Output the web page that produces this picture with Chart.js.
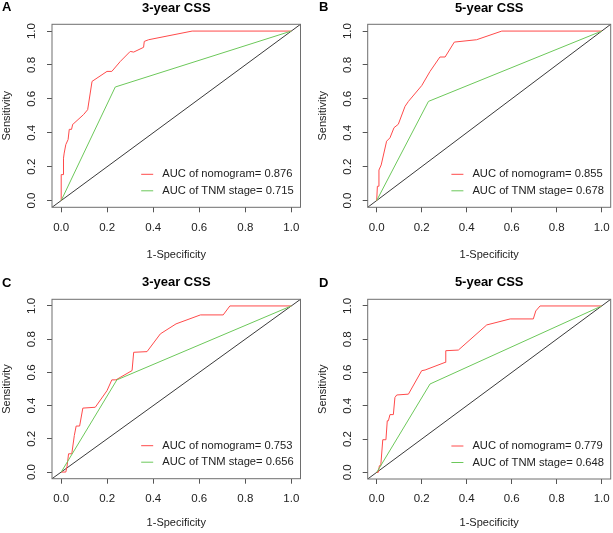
<!DOCTYPE html>
<html>
<head>
<meta charset="utf-8">
<script src="https://cdn.jsdelivr.net/npm/chart.js@4"></script>
<style>
  body { margin: 0; background: #fff; }
  #wrap { position: relative; width: 613px; height: 533px; overflow: hidden; }
  .panel { position: absolute; }
  .tag { position: absolute; font: bold 13px "Liberation Sans", Arial, sans-serif; color: #000; }
</style>
</head>
<body>
<div id="wrap"></div>
<script>
// tick labels shared by both axes
const tickVals = [0, 0.2, 0.4, 0.6, 0.8, 1.0];
const diagX = [-0.04, 1.04];

const panelLetters = ["A", "B", "C", "D"];
const panelTitles = ["3-year CSS", "5-year CSS", "3-year CSS", "5-year CSS"];
const nomoAuc = ["0.876", "0.855", "0.753", "0.779"];
const tnmAuc = ["0.715", "0.678", "0.656", "0.648"];

// A: training 3-year
const aNomoFpr = [0, 0, 0.01, 0.01, 0.013, 0.02, 0.03, 0.035, 0.045, 0.05, 0.055, 0.097, 0.115, 0.134, 0.199, 0.22, 0.257, 0.30, 0.315, 0.358, 0.361, 0.38, 0.569, 1];
const aNomoTpr = [0, 0.153, 0.153, 0.25, 0.28, 0.33, 0.36, 0.42, 0.42, 0.45, 0.455, 0.507, 0.536, 0.703, 0.762, 0.762, 0.821, 0.88, 0.876, 0.904, 0.939, 0.949, 1, 1];
const aTnmFpr = [0, 0.235, 1];
const aTnmTpr = [0, 0.67, 1];

// B: training 5-year
const bNomoFpr = [0, 0.003, 0.007, 0.01, 0.02, 0.044, 0.059, 0.077, 0.096, 0.126, 0.141, 0.2, 0.237, 0.281, 0.304, 0.345, 0.444, 0.556, 1];
const bNomoTpr = [0, 0.084, 0.084, 0.18, 0.21, 0.35, 0.37, 0.43, 0.45, 0.556, 0.585, 0.678, 0.762, 0.847, 0.847, 0.935, 0.949, 1, 1];
const bTnmFpr = [0, 0.23, 1];
const bTnmTpr = [0, 0.585, 1];

// C: validation 3-year
const cNomoFpr = [0, 0.02, 0.025, 0.032, 0.046, 0.057, 0.065, 0.08, 0.094, 0.148, 0.199, 0.22, 0.238, 0.308, 0.315, 0.373, 0.431, 0.499, 0.605, 0.704, 0.733, 1];
const cNomoTpr = [0, 0, 0.03, 0.11, 0.11, 0.22, 0.277, 0.277, 0.385, 0.39, 0.49, 0.555, 0.555, 0.611, 0.721, 0.725, 0.832, 0.892, 0.946, 0.946, 1, 1];
const cTnmFpr = [0, 0.242, 1];
const cTnmTpr = [0, 0.555, 1];

// D: validation 5-year
const dNomoFpr = [0, 0.007, 0.012, 0.018, 0.027, 0.041, 0.047, 0.052, 0.059, 0.074, 0.081, 0.089, 0.141, 0.2, 0.215, 0.304, 0.307, 0.363, 0.489, 0.593, 0.696, 0.707, 0.726, 1];
const dNomoTpr = [0, 0, 0.04, 0.04, 0.196, 0.196, 0.31, 0.31, 0.347, 0.347, 0.45, 0.465, 0.47, 0.611, 0.615, 0.661, 0.731, 0.735, 0.886, 0.922, 0.922, 0.97, 1, 1];
const dTnmFpr = [0, 0.237, 1];
const dTnmTpr = [0, 0.531, 1];

const nomoFpr = [aNomoFpr, bNomoFpr, cNomoFpr, dNomoFpr];
const nomoTpr = [aNomoTpr, bNomoTpr, cNomoTpr, dNomoTpr];
const tnmFpr = [aTnmFpr, bTnmFpr, cTnmFpr, dTnmFpr];
const tnmTpr = [aTnmTpr, bTnmTpr, cTnmTpr, dTnmTpr];

const FONT = '"Liberation Sans", Arial, sans-serif';
const RED = "#ff4a4a";
const GREEN = "#6cc85a";

// where each panel sits and how big its plot box is
const layouts = [
  { x: 0,   y: 0,   w: 306, h: 266, padL: 0,  padR: 5.5, yW: 52,   xH: 58.7, tTop: 1.5, tBot: 9.8,  xtPad: 4.5, tkPad: 9, tag: [2, -1] },
  { x: 306, y: 0,   w: 307, h: 266, padL: 10, padR: 2.3, yW: 51.7, xH: 58.7, tTop: 1.5, tBot: 9.8,  xtPad: 4.5, tkPad: 9, tag: [13, -1] },
  { x: 0,   y: 266, w: 306, h: 267, padL: 0,  padR: 5.5, yW: 52,   xH: 54.3, tTop: 9.7, tBot: 10.6, xtPad: 3,   tkPad: 8, tag: [2, 9] },
  { x: 306, y: 266, w: 307, h: 267, padL: 10, padR: 2.3, yW: 51.7, xH: 54,   tTop: 9.7, tBot: 10.6, xtPad: 3,   tkPad: 8, tag: [13, 9] }
];

const toPts = (xs, ys) => xs.map((v, i) => ({ x: v, y: ys[i] }));

const boxAndLegend = {
  id: "boxAndLegend",
  afterDatasetsDraw(chart) {
    const { ctx, chartArea: a } = chart;
    ctx.save();
    ctx.strokeStyle = "#6e6e6e";
    ctx.lineWidth = 1;
    ctx.strokeRect(a.left, a.top, a.right - a.left, a.bottom - a.top);

    // legend, bottom right, no frame
    const items = chart.data.datasets.filter(d => d.inLegend).sort((p, q) => p.legendRow - q.legendRow);
    ctx.font = "11.2px " + FONT;
    ctx.textBaseline = "middle";
    const tx = a.right - 138.3;
    items.forEach((d, i) => {
      const y = a.bottom - 33 + i * 16.5;
      ctx.strokeStyle = d.borderColor;
      ctx.beginPath();
      ctx.moveTo(tx - 21, y);
      ctx.lineTo(tx - 9, y);
      ctx.stroke();
      ctx.fillStyle = "#222";
      ctx.fillText(d.label, tx, y);
    });
    ctx.restore();
  }
};

const wrap = document.getElementById("wrap");

layouts.forEach((L, p) => {
  const div = document.createElement("div");
  div.className = "panel";
  div.style.left = L.x + "px";
  div.style.top = L.y + "px";
  const cv = document.createElement("canvas");
  cv.width = L.w;
  cv.height = L.h;
  cv.style.width = L.w + "px";
  cv.style.height = L.h + "px";
  div.appendChild(cv);
  const tag = document.createElement("div");
  tag.className = "tag";
  tag.textContent = panelLetters[p];
  tag.style.left = L.tag[0] + "px";
  tag.style.top = L.tag[1] + "px";
  div.appendChild(tag);
  wrap.appendChild(div);

  const setTicks = s => { s.ticks = tickVals.map(v => ({ value: v })); };
  const noPad = s => { s.paddingTop = 0; s.paddingBottom = 0; s.paddingLeft = 0; s.paddingRight = 0; };

  new Chart(cv, {
    type: "scatter",
    data: {
      datasets: [
        {
          label: "AUC of TNM stage= " + tnmAuc[p],
          data: toPts(tnmFpr[p], tnmTpr[p]),
          borderColor: GREEN, inLegend: true, legendRow: 1
        },
        {
          label: "AUC of nomogram= " + nomoAuc[p],
          data: toPts(nomoFpr[p], nomoTpr[p]),
          borderColor: RED, inLegend: true, legendRow: 0
        },
        {
          label: "ref",
          data: toPts(diagX, diagX),
          borderColor: "#3a3a3a", inLegend: false
        }
      ].map(d => Object.assign(d, { showLine: true, pointRadius: 0, borderWidth: 1, tension: 0, fill: false }))
    },
    options: {
      responsive: false,
      animation: false,
      devicePixelRatio: 1,
      layout: { padding: { left: L.padL, right: L.padR, top: 0, bottom: 0 } },
      plugins: {
        legend: { display: false },
        tooltip: { enabled: false },
        title: {
          display: true,
          text: panelTitles[p],
          fullSize: false,
          color: "#000",
          font: { family: FONT, size: 13, weight: "bold", lineHeight: 1 },
          padding: { top: L.tTop, bottom: L.tBot }
        }
      },
      scales: {
        x: {
          type: "linear",
          min: -0.04, max: 1.04,
          afterBuildTicks: setTicks,
          afterFit: s => { s.height = L.xH; noPad(s); },
          border: { display: false },
          grid: { drawOnChartArea: false, drawTicks: true, tickLength: 5, color: "#555" },
          ticks: {
            autoSkip: false, maxRotation: 0, padding: L.tkPad, color: "#222",
            font: { family: FONT, size: 11.5 },
            callback: v => v.toFixed(1)
          },
          title: {
            display: true, text: "1-Specificity", color: "#222",
            font: { family: FONT, size: 11 },
            padding: { top: 0, bottom: L.xtPad }
          }
        },
        y: {
          type: "linear",
          min: -0.04, max: 1.04,
          afterBuildTicks: setTicks,
          afterFit: s => { s.width = L.yW; noPad(s); },
          border: { display: false },
          grid: { drawOnChartArea: false, drawTicks: true, tickLength: 5, color: "#555" },
          ticks: {
            autoSkip: false, minRotation: 90, maxRotation: 90, crossAlign: "center",
            padding: 7, color: "#222",
            font: { family: FONT, size: 11.5 },
            callback: v => v.toFixed(1)
          },
          title: {
            display: true, text: "Sensitivity", color: "#222",
            font: { family: FONT, size: 11 },
            padding: { top: 0, bottom: 0 }
          }
        }
      }
    },
    plugins: [boxAndLegend]
  });
});
</script>
</body>
</html>
